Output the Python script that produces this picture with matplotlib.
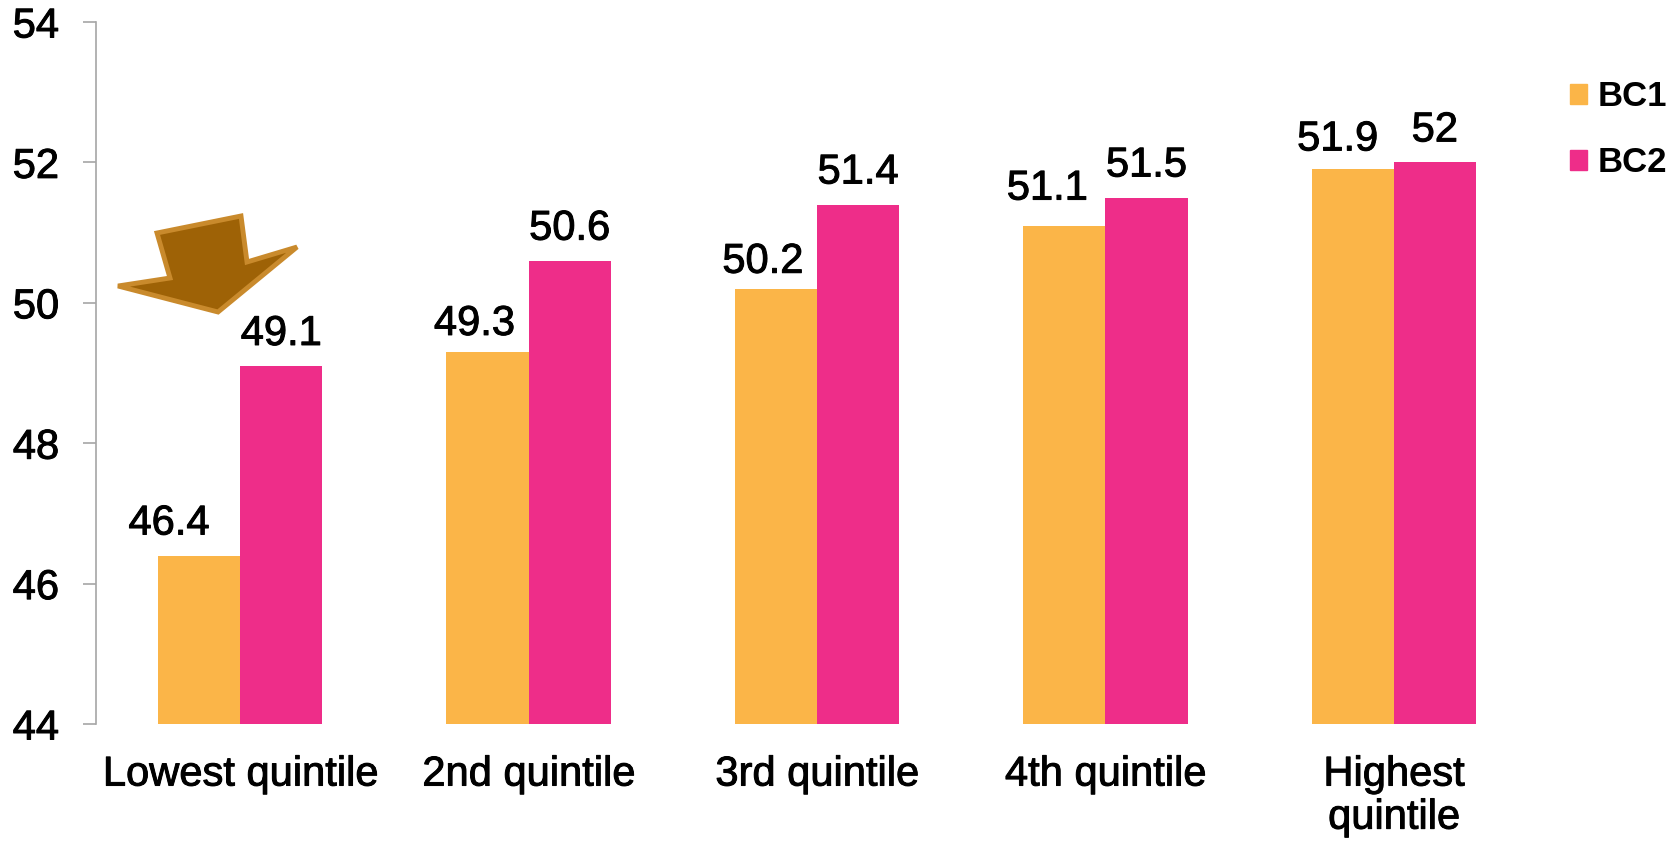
import numpy as np
import matplotlib
matplotlib.use('Agg')
from matplotlib import pyplot as plt
from matplotlib.patches import Polygon, Patch
import matplotlib.patheffects as pe

plt.rcParams['font.family'] = ['Liberation Sans', 'DejaVu Sans']

categories = ['Lowest quintile', '2nd quintile', '3rd quintile', '4th quintile', 'Highest\nquintile']
bc1 = [46.4, 49.3, 50.2, 51.1, 51.9]
bc2 = [49.1, 50.6, 51.4, 51.5, 52.0]
bc1_labels = ['46.4', '49.3', '50.2', '51.1', '51.9']
bc2_labels = ['49.1', '50.6', '51.4', '51.5', '52']
series_names = ['BC1', 'BC2']
yticks = [44, 46, 48, 50, 52, 54]

c1 = '#FBB548'
c2 = '#EE2D89'
grey = '#A6A6A6'

fig = plt.figure(figsize=(16.8, 8.44), dpi=100)
ax = fig.add_axes([96/1680, 1 - 724/844, (1538-96)/1680, (724-22)/844])

x = np.arange(len(categories))
w = 0.285
ax.bar(x - w/2, np.array(bc1) - 44, w, bottom=44, color=c1)
ax.bar(x + w/2, np.array(bc2) - 44, w, bottom=44, color=c2)

# label nudges in pixels (orange labels sit left of their bars in the original)
dx1 = [-30, -13, -13, -17, -15]
dy1 = [12, 8, 7, 17, 10]
thick = [pe.withStroke(linewidth=0.7, foreground='black')]
for xi, v, s, ddx, ddy in zip(x - w/2, bc1, bc1_labels, dx1, dy1):
    ax.annotate(s, (xi, v), xytext=(ddx * 0.72, ddy * 0.72), textcoords='offset points',
                ha='center', va='bottom', fontsize=30, path_effects=thick)
for xi, v, s in zip(x + w/2, bc2, bc2_labels):
    ax.annotate(s, (xi, v), xytext=(0, 12 * 0.72), textcoords='offset points',
                ha='center', va='bottom', fontsize=30, path_effects=thick)

ax.set_xlim(-0.5, len(categories) - 0.5)
ax.set_ylim(44, 54)
ax.set_yticks(yticks)
ax.set_xticks(x)
ax.set_xticklabels(categories, fontsize=30, linespacing=1.1)
for t in ax.get_xticklabels() + ax.get_yticklabels():
    t.set_path_effects(thick)
ax.tick_params(axis='x', length=0, pad=22)
ax.tick_params(axis='y', length=9.5, width=1.2, color=grey, pad=17, labelsize=30)
for sp in ['top', 'right', 'bottom']:
    ax.spines[sp].set_visible(False)
ax.spines['left'].set_color(grey)
ax.spines['left'].set_linewidth(1.2)

# arrow callout (figure pixel coords)
pts = np.array([(118, 286), (170, 278), (157, 233), (241, 216), (247, 262), (297, 247), (218, 312)], float)
pts[:, 0] /= 1680
pts[:, 1] = 1 - pts[:, 1] / 844
fig.patches.append(Polygon(pts, closed=True, transform=fig.transFigure,
                           facecolor='#9E6206', edgecolor='#C98A2C', linewidth=3.5, joinstyle='miter'))

handles = [Patch(color=c1), Patch(color=c2)]
leg = fig.legend(handles, series_names, loc='upper left', bbox_to_anchor=(1570/1680, 1 - 80/844),
                 frameon=False, prop={'size': 25, 'weight': 'bold'},
                 handlelength=0.5, handleheight=0.5, handletextpad=0.3, labelspacing=0.95,
                 borderpad=0, borderaxespad=0)

fig.savefig('out.png', dpi=100)
